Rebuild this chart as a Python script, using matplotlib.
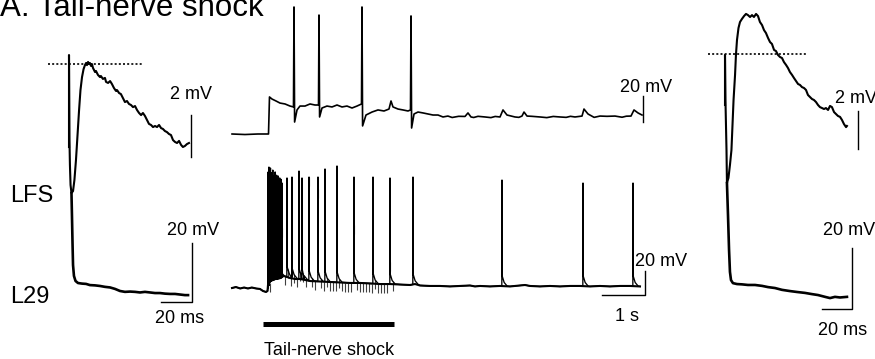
import matplotlib
matplotlib.use("Agg")
import matplotlib.pyplot as plt
import numpy as np

plt.rcParams['font.family'] = ['Liberation Sans', 'DejaVu Sans']

# ---------------- DATA ----------------
title = "A. Tail-nerve shock"
cell_labels = ["LFS", "L29"]
stim_label = "Tail-nerve shock"

# Left panel (before training): LFS EPSP (ms, mV)
lfs_pre_t = [0, 0, 0.3, 0.6, 1.0, 1.6, 2.6, 3.5, 4.5, 5.5, 6.5, 7.4, 8.4, 9.4,
             10.3, 11.0, 11.6, 12.3, 12.9, 13.5, 14.2, 14.8, 15.5,
             16.8, 17.4, 18.7, 20.0, 20.6, 21.9, 23.2, 23.9, 25.2,
             26.5, 27.7, 29.0, 30.3,
             31.0, 32.3, 33.5, 34.8, 36.1, 37.4, 38.7, 40.0, 41.3, 42.6, 43.9, 45.2,
             46.5, 47.7, 49.0, 50.3, 51.6, 52.9, 54.2, 55.5, 56.8, 58.1, 59.4, 60.6,
             61.9, 63.2, 64.5, 65.8, 67.1, 68.4, 69.7, 71.0, 72.3, 73.5, 74.8, 76.1, 77.4]
lfs_pre_v = [1.00, 5.38, 1.33, 0.14, -0.81, -1.19, -1.10, -0.57, 0.38, 1.57, 2.76, 3.71, 4.33, 4.71,
             4.90, 5.00, 4.90, 5.05, 4.95, 5.00, 4.86, 4.95, 4.76,
             4.57, 4.62, 4.43, 4.33, 4.38, 4.24, 4.29, 4.10, 4.05,
             4.14, 4.00, 3.81, 3.67,
             3.71, 3.57, 3.52, 3.33, 3.14, 3.19, 3.05, 3.00, 2.90, 2.95, 2.76, 2.62,
             2.52, 2.62, 2.48, 2.29, 2.10, 2.05, 1.95, 2.00, 1.95, 2.05, 1.90, 1.86,
             1.76, 1.71, 1.62, 1.57, 1.33, 1.24, 1.19, 1.29, 1.10, 1.00, 1.05, 1.14, 1.19]
lfs_pre_peak = 4.95

# Left panel: L29 (ms, mV)
l29_pre_t = [1.6, 1.9, 2.3, 2.6, 3.2, 4.2, 5.8, 8.4, 11.0, 13.5, 16.8, 20.0, 23.2, 26.5, 29.7,
             32.9, 36.1, 39.4, 42.6, 45.8, 49.0, 52.3, 55.5, 58.7, 61.9, 65.2, 68.4, 71.6, 74.8, 76.8]
l29_pre_v = [34.9, 27.5, 17.3, 10.5, 6.8, 5.1, 4.4, 4.2, 4.1, 3.7, 3.6, 3.4, 3.1, 2.9, 2.4,
             1.7, 1.4, 1.5, 1.4, 1.2, 1.4, 1.2, 1.0, 1.0, 0.8, 0.7, 0.7, 0.5, 0.3, 0.3]

# Right panel (after): LFS EPSP (ms, mV)
lfs_post_t = [0, 0, 0.3, 1.0, 1.3, 2.3, 3.3, 4.3, 5.0, 5.7, 6.7, 7.3, 8.0, 9.0, 10.0,
              11.3, 12.7, 14.0, 15.3, 16.7, 18.0, 19.3, 20.7, 22.0, 23.3, 24.7, 26.0, 27.3,
              28.7, 30.0, 31.3, 32.7, 34.0, 35.3, 36.7, 38.0, 39.3, 40.7, 42.0, 43.3, 44.7,
              46.0, 47.3, 48.7, 50.0, 51.3, 52.7, 54.0, 55.3, 56.7, 58.0, 59.3, 60.7, 62.0,
              63.3, 64.7, 66.0, 67.3, 68.7, 70.0, 71.3, 72.7, 74.0, 75.3, 76.7, 78.0, 79.3,
              80.7, 81.3]
lfs_post_v = [2.30, 4.90, 2.56, -0.04, -1.75, -1.49, -0.82, -0.04, 1.26, 2.56, 3.86, 4.90, 5.68, 6.30, 6.61,
              6.77, 6.92, 7.03, 6.97, 6.87, 6.97, 6.87, 7.03, 6.92, 6.61, 6.45, 6.19, 6.04,
              5.78, 5.57, 5.47, 5.16, 5.10, 4.90, 4.79, 4.74, 4.53, 4.38, 4.22, 4.01, 3.86,
              3.70, 3.55, 3.39, 3.34, 3.23, 3.18, 3.08, 2.82, 2.71, 2.61, 2.56, 2.45, 2.30,
              2.19, 2.14, 2.09, 2.14, 2.04, 2.25, 2.19, 1.93, 1.83, 1.73, 1.68, 1.52, 1.31,
              1.15, 1.21]

# Right panel: L29 (ms, mV)
l29_post_t = [1.3, 2.0, 2.7, 3.3, 4.0, 5.3, 8.0, 11.3, 15.3, 20.0, 24.7, 28.7, 33.3, 38.0,
              43.3, 48.0, 53.3, 58.0, 62.0, 66.7, 70.0, 73.3, 76.7, 81.3]
l29_post_v = [38.0, 27.5, 16.1, 8.9, 6.2, 5.2, 4.9, 4.8, 4.6, 4.6, 4.3, 3.9, 3.6, 3.0,
              2.6, 2.3, 2.0, 1.6, 1.3, 0.7, 0.3, 0.7, 0.5, 0.7]

# Middle: LFS during tail-nerve shock (s, mV)
lfs_tn_t = [-0.72, -0.42, -0.12, 0.128, 0.151, 0.209, 0.302, 0.395, 0.512, 0.628, 0.709,
            0.721, 0.735, 0.791, 0.860, 0.977, 1.093, 1.209, 1.291, 1.302, 1.316, 1.372,
            1.488, 1.605, 1.721, 1.837, 1.953, 2.070, 2.186, 2.291, 2.302, 2.316, 2.395,
            2.535, 2.674, 2.814, 2.930, 2.977, 3.023, 3.140, 3.256, 3.372, 3.430, 3.442,
            3.456, 3.512, 3.605, 3.721, 3.837, 3.953, 4.070, 4.186, 4.30, 4.40, 4.465,
            4.55, 4.698, 4.767, 4.837, 4.90, 5.00, 5.163, 5.30, 5.40, 5.512, 5.581, 5.674,
            5.860, 5.95, 6.023, 6.070, 6.140, 6.25, 6.442, 6.60, 6.75, 6.907, 7.05, 7.15,
            7.256, 7.419, 7.465, 7.558, 7.70, 7.837, 8.00, 8.186, 8.35, 8.45, 8.558, 8.628,
            8.721, 8.814]
lfs_tn_v = [0.0, -0.4, 0.0, 0.0, 28.5, 26.9, 25.4, 23.8, 23.1, 21.5, 20.8,
            97.7, 9.2, 18.5, 21.5, 21.5, 23.1, 22.3, 22.3, 91.5, 13.1, 20.0,
            21.5, 20.8, 22.3, 20.8, 21.5, 20.0, 21.5, 23.1, 97.7, 6.2, 14.6,
            16.9, 18.5, 17.7, 19.2, 25.4, 20.8, 19.2, 18.5, 17.7, 18.5, 90.8,
            4.6, 15.4, 16.9, 16.2, 15.4, 14.6, 14.6, 13.1, 13.8, 12.7, 13.1,
            13.6, 13.5, 16.2, 13.1, 12.7, 13.6, 13.1, 12.6, 13.5, 13.1, 18.5, 14.6,
            13.1, 12.8, 13.8, 16.9, 13.8, 13.6, 13.1, 12.6, 13.5, 13.1, 12.8, 13.6,
            13.1, 13.8, 19.2, 15.4, 12.8, 13.8, 13.6, 13.8, 12.9, 13.7, 13.8, 18.5,
            16.2, 14.6]

# Middle: L29 during tail-nerve shock (s, mV)
l29_base_t = [-0.72, -0.63, -0.53, -0.44, -0.35, -0.26, -0.16, -0.07, 0.0, 0.07, 0.105,
              0.116, 0.163, 0.279, 0.395, 0.442, 0.488, 0.558, 0.628, 0.744, 0.860, 0.977,
              1.093, 1.326, 1.558, 1.791, 2.023, 2.256, 2.488, 2.721, 2.953, 3.186, 3.419,
              3.535, 3.651, 3.884, 4.116, 4.349, 4.581, 4.814, 4.930, 5.047, 5.279, 5.512,
              5.744, 5.977, 6.093, 6.209, 6.442, 6.674, 6.907, 7.140, 7.372, 7.605, 7.837,
              8.070, 8.302, 8.535, 8.767]
l29_base_v = [0.0, 0.8, -0.4, 0.4, -0.4, 0.4, -0.4, -0.8, -2.5, -3.3, -2.5,
              2.5, 8.3, 10.0, 10.8, 11.7, 10.0, 9.2, 8.3, 7.5, 7.5, 6.7,
              5.8, 5.4, 5.0, 4.6, 4.2, 4.2, 3.8, 3.3, 3.3, 2.9, 2.5,
              3.3, 2.1, 1.7, 1.7, 1.3, 1.7, 2.1, 1.3, 1.7, 1.3, 1.7,
              1.3, 2.1, 2.5, 1.7, 1.3, 1.7, 1.3, 1.7, 1.7, 1.3, 1.7,
              1.3, 1.7, 1.7, 1.3]
l29_burst_t = [0.120, 0.138, 0.156, 0.174, 0.192, 0.210, 0.228, 0.246, 0.264, 0.282,
               0.300, 0.318, 0.336, 0.354, 0.372, 0.390, 0.408, 0.426, 0.442]
l29_burst_peak = [96.7, 100.8, 95.0, 100.0, 96.0, 91.7, 98.3, 93.0, 90.0, 96.7,
                  91.7, 94.0, 88.3, 93.3, 90.0, 91.7, 89.0, 90.5, 87.5]
l29_spike_t = [0.558, 0.674, 0.837, 0.907, 1.070, 1.279, 1.442, 1.721, 2.116, 2.558,
               2.953, 3.488, 5.558, 7.442, 8.605]
l29_spike_peak = [91.7, 92.5, 97.5, 91.7, 92.5, 92.5, 99.2, 101.7, 92.5, 92.5,
                  91.7, 92.5, 90.0, 87.5, 87.5]
shock_artifact_t = [0.16, 0.23, 0.30, 0.37, 0.44, 0.51, 0.58, 0.65, 0.72, 0.79, 0.86,
                    0.93, 1.00, 1.07, 1.14, 1.21, 1.28, 1.35, 1.42, 1.49, 1.56, 1.63,
                    1.70, 1.77, 1.84, 1.91, 1.98, 2.05, 2.12, 2.19, 2.26, 2.33, 2.40,
                    2.47, 2.54, 2.61, 2.68, 2.75, 2.82, 2.89, 2.96, 3.03]
shock_artifact_depth = 7.5   # mV
shock_period = [0.0, 3.05]   # s

# ---------------- LAYOUT ----------------
W, H = 875, 359
fig = plt.figure(figsize=(W / 100, H / 100), dpi=100)


def panel(name, x0, y0, sx, sy):
    """Transparent full-figure axes: x0,y0 pixel of data origin, sx,sy px per unit."""
    ax = fig.add_axes([0, 0, 1, 1], label=name)
    ax.set_xlim(-x0 / sx, (W - x0) / sx)
    ax.set_ylim((y0 - H) / sy, y0 / sy)
    ax.axis('off')
    ax.patch.set_visible(False)
    return ax


ax_lfs_pre = panel('lfs_pre', 69, 168, 1.55, 21.0)
ax_l29_pre = panel('l29_pre', 69, 296, 1.55, 2.95)
ax_lfs_post = panel('lfs_post', 725, 149.25, 1.5, 19.25)
ax_l29_post = panel('l29_post', 725, 299, 1.5, 3.05)
ax_lfs_tn = panel('lfs_tn', 263, 134, 43.0, 1.3)
ax_l29_tn = panel('l29_tn', 263, 288, 43.0, 1.2)

K = 'black'
SBW = 1.0
ST = 13

# Left panel
ax_lfs_pre.plot(lfs_pre_t, lfs_pre_v, color=K, lw=1.5, solid_joinstyle='round')
ax_lfs_pre.plot([-13.5, 47.1], [lfs_pre_peak, lfs_pre_peak], color=K, lw=1.2,
                linestyle=(0, (1.2, 1.3)))
ax_lfs_pre.plot([78.7, 78.7], [0.52, 2.52], color=K, lw=SBW)
ax_lfs_pre.text(78.7, 3.29, "2 mV", ha='center', va='baseline', fontsize=ST)

ax_l29_pre.plot(l29_pre_t, l29_pre_v, color=K, lw=1.9)
ax_l29_pre.plot([59.35, 79.35, 79.35], [-2.03, -2.03, 17.97], color=K, lw=SBW)
ax_l29_pre.text(80.3, 20.7, "20 mV", ha='center', va='baseline', fontsize=ST)
ax_l29_pre.text(71.6, -9.15, "20 ms", ha='center', va='baseline', fontsize=ST)

# Right panel
ax_lfs_post.plot(lfs_post_t, lfs_post_v, color=K, lw=1.5, solid_joinstyle='round')
ax_lfs_post.plot([-11.3, 54.0], [lfs_pre_peak, lfs_pre_peak], color=K, lw=1.2,
                 linestyle=(0, (1.2, 1.3)))
ax_lfs_post.plot([88.7, 88.7], [0.0, 2.0], color=K, lw=SBW)
ax_lfs_post.text(73.3, 2.40, "2 mV", ha='left', va='baseline', fontsize=ST)

ax_l29_post.plot(l29_post_t, l29_post_v, color=K, lw=1.9)
ax_l29_post.plot([64.67, 84.67, 84.67], [-3.28, -3.28, 16.72], color=K, lw=SBW)
ax_l29_post.text(65.3, 21.0, "20 mV", ha='left', va='baseline', fontsize=ST)
ax_l29_post.text(78.7, -11.8, "20 ms", ha='center', va='baseline', fontsize=ST)

# Middle: LFS
ax_lfs_tn.plot(lfs_tn_t, lfs_tn_v, color=K, lw=1.2)
ax_lfs_tn.plot([8.837, 8.837], [9.23, 29.23], color=K, lw=SBW)
ax_lfs_tn.text(8.907, 32.3, "20 mV", ha='center', va='baseline', fontsize=ST)

# Middle: L29 (baseline + spikes)
bt = np.asarray(l29_base_t)
bv = np.asarray(l29_base_v)
keep = np.ones(len(bt), bool)
pts = []
for s, p in zip(l29_burst_t, l29_burst_peak):
    b = np.interp(s, bt, bv)
    keep &= ~((bt > s - 0.005) & (bt < s + 0.005))
    pts += [(s - 0.004, b), (s, p), (s + 0.004, b - 3)]
for s, p in zip(l29_spike_t, l29_spike_peak):
    b = np.interp(s, bt, bv)
    keep &= ~((bt > s - 0.005) & (bt < s + 0.12))
    pts += [(s - 0.004, b), (s, p), (s + 0.008, b + 8), (s + 0.05, b + 3), (s + 0.12, b)]
pts += list(zip(bt[keep], bv[keep]))
pts.sort()
tr_t = np.array([p[0] for p in pts])
tr_v = np.array([p[1] for p in pts])

art_t = np.asarray(shock_artifact_t)
art_top = np.interp(art_t, tr_t, tr_v)
ax_l29_tn.vlines(art_t, art_top - shock_artifact_depth, art_top, color='0.25', lw=0.8)
ax_l29_tn.plot(bt, bv, color=K, lw=1.5)
ax_l29_tn.plot(tr_t, tr_v, color=K, lw=0.95)

ax_l29_tn.plot([7.895, 8.895, 8.895], [-5.83, -5.83, 14.17], color=K, lw=SBW)
ax_l29_tn.text(8.651, 18.3, "20 mV", ha='left', va='baseline', fontsize=ST)
ax_l29_tn.text(8.465, -27.5, "1 s", ha='center', va='baseline', fontsize=ST)

# stimulus bar
ax_l29_tn.plot(shock_period, [-29.6, -29.6], color=K, lw=3.6, solid_capstyle='butt')
ax_l29_tn.text(np.mean(shock_period), -55.8, stim_label, ha='center', va='baseline',
               fontsize=ST)

# figure-level labels
fig.text(0 / W, 1 - 16.5 / H, title, ha='left', va='baseline', fontsize=22.5)
fig.text(10 / W, 1 - 202 / H, cell_labels[0], ha='left', va='baseline', fontsize=17)
fig.text(10 / W, 1 - 303 / H, cell_labels[1], ha='left', va='baseline', fontsize=17)

fig.savefig("out.png", dpi=100)
